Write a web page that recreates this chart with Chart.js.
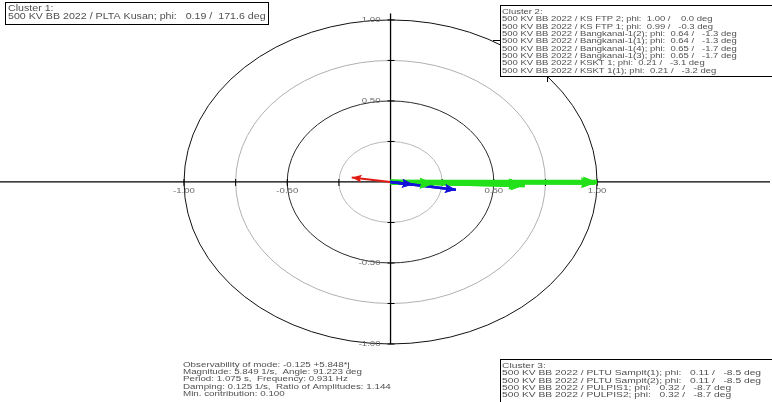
<!DOCTYPE html>
<html>
<head>
<meta charset="utf-8">
<script src="https://cdn.jsdelivr.net/npm/chart.js@4.4.0/dist/chart.umd.min.js"></script>
<style>
  html, body { margin: 0; padding: 0; background: #fff; }
  #wrap { width: 772px; height: 402px; }
</style>
</head>
<body>
<div id="wrap"><canvas id="c" width="772" height="402"></canvas></div>
<script>
// Mode-shape participation vectors, grouped by coherent cluster
const cluster1Names = ['500 KV BB 2022 / PLTA Kusan'];
const cluster1Mag = [0.19];
const cluster1Deg = [171.6];

const cluster2Names = [
  '500 KV BB 2022 / KS FTP 2',
  '500 KV BB 2022 / KS FTP 1',
  '500 KV BB 2022 / Bangkanai-1(2)',
  '500 KV BB 2022 / Bangkanai-1(1)',
  '500 KV BB 2022 / Bangkanai-1(4)',
  '500 KV BB 2022 / Bangkanai-1(3)',
  '500 KV BB 2022 / KSKT 1',
  '500 KV BB 2022 / KSKT 1(1)'
];
const cluster2Mag = [1.00, 0.99, 0.64, 0.64, 0.65, 0.65, 0.21, 0.21];
const cluster2Deg = [0.0, -0.3, -1.3, -1.3, -1.7, -1.7, -3.1, -3.2];

const cluster3Names = [
  '500 KV BB 2022 / PLTU Sampit(1)',
  '500 KV BB 2022 / PLTU Sampit(2)',
  '500 KV BB 2022 / PULPIS1',
  '500 KV BB 2022 / PULPIS2'
];
const cluster3Mag = [0.11, 0.11, 0.32, 0.32];
const cluster3Deg = [-8.5, -8.5, -8.7, -8.7];

// Polar grid
const ringRadii = [0.25, 0.5, 0.75, 1.0];
const ringColors = ['#b8b8b8', '#2a2a2a', '#b0b0b0', '#111111'];
const tickValues = [-1.0, -0.5, 0.5, 1.0];
const tickLabels = ['-1.00', '-0.50', '0.50', '1.00'];
const minorTicks = [-1.0, -0.75, -0.5, -0.25, 0.25, 0.5, 0.75, 1.0];

// Mode summary
const modeInfo = [
  'Observability of mode: -0.125 +5.848*j',
  'Magnitude: 5.849 1/s,  Angle: 91.223 deg',
  'Period: 1.075 s,  Frequency: 0.931 Hz',
  'Damping: 0.125 1/s,  Ratio of Amplitudes: 1.144',
  'Min. contribution: 0.100'
];

const COLORS = { c1: '#e01a14', c2: '#22e01a', c3: '#1414d8' };

function pad(s, n) { s = String(s); while (s.length < n) s = ' ' + s; return s; }
function legendLine(name, mag, deg, wMag, wDeg) {
  return name + '; phi: ' + pad(mag.toFixed(2), wMag) + ' / ' + pad(deg.toFixed(1), wDeg) + ' deg';
}

function vectorSets(names, mags, degs, color, width, order, head) {
  return names.map((n, i) => {
    const a = degs[i] * Math.PI / 180;
    return {
      label: n,
      data: [{ x: 0, y: 0 }, { x: mags[i] * Math.cos(a), y: mags[i] * Math.sin(a) }],
      showLine: true,
      borderColor: color,
      backgroundColor: color,
      borderWidth: width,
      pointRadius: 0,
      order: order,
      head: head
    };
  });
}

const datasets = [
  ...vectorSets(cluster2Names, cluster2Mag, cluster2Deg, COLORS.c2, 4.5, 2, { len: 14, half: 5.5, notch: 0.9 }),
  ...vectorSets(cluster1Names, cluster1Mag, cluster1Deg, COLORS.c1, 2, 1, { len: 10, half: 4, notch: 0.8 }),
  ...vectorSets(cluster3Names, cluster3Mag, cluster3Deg, COLORS.c3, 2.5, 0, { len: 11, half: 4.5, notch: 0.8 })
];

const FONT = '"Liberation Sans", Arial, sans-serif';
const TEXT_COLOR = '#505050';

// Draw stretched text (the whole diagram is wider than tall)
function stretchedText(ctx, str, x, y, size, sx, align) {
  ctx.save();
  ctx.font = size + 'px ' + FONT;
  ctx.textBaseline = 'middle';
  ctx.translate(x, y);
  ctx.scale(sx, 1);
  ctx.textAlign = align || 'left';
  ctx.fillText(str, 0, 0);
  ctx.restore();
}

const polarGrid = {
  id: 'polarGrid',
  beforeDatasetsDraw(chart) {
    const { ctx, scales: { x, y } } = chart;
    const cx = x.getPixelForValue(0), cy = y.getPixelForValue(0);
    ctx.save();
    ringRadii.forEach((r, i) => {
      const rx = x.getPixelForValue(r) - cx;
      const ry = cy - y.getPixelForValue(r);
      ctx.beginPath();
      ctx.ellipse(cx, cy, rx, ry, 0, 0, Math.PI * 2);
      ctx.strokeStyle = ringColors[i];
      ctx.lineWidth = 1;
      ctx.stroke();
    });
    // axes
    ctx.strokeStyle = '#000';
    ctx.lineWidth = 1.3;
    ctx.beginPath();
    ctx.moveTo(x.left, cy);
    ctx.lineTo(x.right - 2, cy);
    ctx.moveTo(cx, y.getPixelForValue(1.04));
    ctx.lineTo(cx, y.getPixelForValue(-1.0));
    ctx.stroke();
    // minor ticks
    ctx.lineWidth = 1;
    ctx.beginPath();
    minorTicks.forEach(v => {
      const px = x.getPixelForValue(v);
      ctx.moveTo(px, cy - 3); ctx.lineTo(px, cy + 4);
      const py = y.getPixelForValue(v);
      ctx.moveTo(cx - 3, py); ctx.lineTo(cx + 4, py);
    });
    ctx.stroke();
    // tick labels
    ctx.fillStyle = '#6a6a6a';
    tickValues.forEach((v, i) => {
      stretchedText(ctx, tickLabels[i], x.getPixelForValue(v), cy + 9, 8, 1.2, 'center');
      stretchedText(ctx, tickLabels[i], cx - 10, y.getPixelForValue(v), 8, 1.2, 'right');
    });
    ctx.restore();
  },
  afterDatasetsDraw(chart) {
    const { ctx } = chart;
    // arrowheads, same stacking as the shafts
    const metas = chart.getSortedVisibleDatasetMetas().slice().reverse();
    ctx.save();
    metas.forEach(meta => {
      const ds = chart.data.datasets[meta.index];
      const p0 = meta.data[0], p1 = meta.data[1];
      const ang = Math.atan2(p1.y - p0.y, p1.x - p0.x);
      const h = ds.head;
      ctx.save();
      ctx.translate(p1.x, p1.y);
      ctx.rotate(ang);
      ctx.beginPath();
      ctx.moveTo(0, 0);
      ctx.lineTo(-h.len, -h.half);
      ctx.lineTo(-h.len * h.notch, 0);
      ctx.lineTo(-h.len, h.half);
      ctx.closePath();
      ctx.fillStyle = ds.borderColor;
      ctx.fill();
      ctx.restore();
    });
    ctx.restore();
  },
  afterDraw(chart) {
    const { ctx } = chart;
    ctx.save();
    ctx.strokeStyle = '#000';
    ctx.lineWidth = 1;
    const FS = 7.9;

    // Cluster 1 box
    ctx.fillStyle = '#fff';
    ctx.fillRect(5, 2, 263, 22);
    ctx.strokeRect(5.5, 2.5, 263, 22);
    ctx.fillStyle = TEXT_COLOR;
    const c1Lines = ['Cluster 1:'].concat(cluster1Names.map((n, i) => legendLine(n, cluster1Mag[i], cluster1Deg[i], 6, 6)));
    c1Lines.forEach((t, i) => stretchedText(ctx, t, 8, 8.5 + i * 8, 8.2, 1.3));

    // Cluster 2 box
    ctx.fillStyle = '#fff';
    ctx.fillRect(500, 5, 272, 71);
    ctx.strokeRect(500.5, 5.5, 280, 71);
    ctx.beginPath();
    ctx.moveTo(493, 40.5); ctx.lineTo(500, 40.5);
    ctx.moveTo(547.5, 76); ctx.lineTo(547.5, 82);
    ctx.stroke();
    ctx.fillStyle = TEXT_COLOR;
    const c2Lines = ['Cluster 2:'].concat(cluster2Names.map((n, i) => legendLine(n, cluster2Mag[i], cluster2Deg[i], 5, 6)));
    c2Lines.forEach((t, i) => stretchedText(ctx, t, 502, 12 + i * 7.3, FS, 1.2));

    // Cluster 3 box
    ctx.fillStyle = '#fff';
    ctx.fillRect(500, 359, 272, 50);
    ctx.strokeRect(500.5, 359.5, 280, 60);
    ctx.fillStyle = TEXT_COLOR;
    const c3Lines = ['Cluster 3:'].concat(cluster3Names.map((n, i) => legendLine(n, cluster3Mag[i], cluster3Deg[i], 6, 6)));
    c3Lines.forEach((t, i) => stretchedText(ctx, t, 502, 366 + i * 7.3, FS, 1.3));

    // Mode summary
    modeInfo.forEach((t, i) => stretchedText(ctx, t, 183, 364.5 + i * 7.3, FS, 1.24));
    ctx.restore();
  }
};

new Chart(document.getElementById('c'), {
  type: 'scatter',
  data: { datasets },
  options: {
    responsive: false,
    devicePixelRatio: 1,
    animation: false,
    layout: { padding: 0 },
    plugins: { legend: { display: false }, tooltip: { enabled: false } },
    scales: {
      x: { type: 'linear', min: -1.891, max: 1.847, display: false },
      y: { type: 'linear', min: -1.358, max: 1.123, display: false }
    },
    elements: { line: { tension: 0, borderCapStyle: 'butt' } },
    clip: false
  },
  plugins: [polarGrid]
});
</script>
</body>
</html>
